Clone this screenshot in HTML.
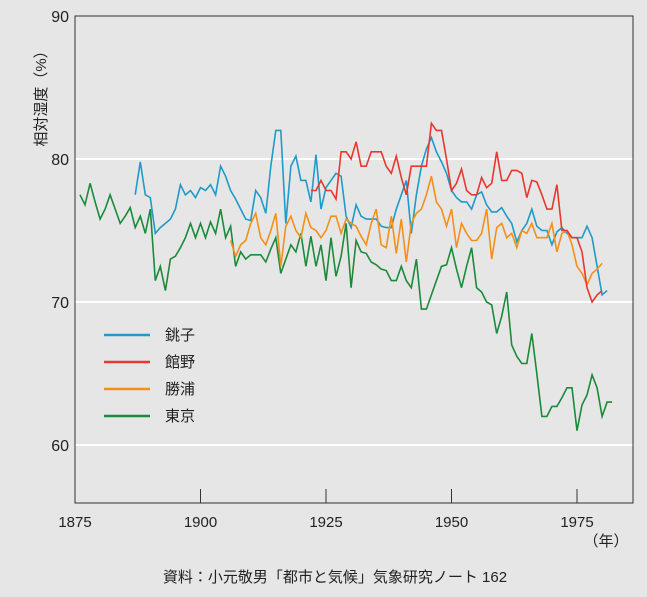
<!DOCTYPE html>
<html><head><meta charset="utf-8"><style>
html,body{margin:0;padding:0;background:#e6e6e6;}
svg{display:block;font-family:"Liberation Sans","Noto Sans CJK JP",sans-serif;}
</style></head><body>
<svg width="647" height="597" viewBox="0 0 647 597">
<rect x="0" y="0" width="647" height="597" fill="#e6e6e6"/>
<g id="grid"></g>
<g id="series"></g>
<path d="M75,16 L75,503 L633,503 L633,16 Z" fill="none" stroke="#333" stroke-width="1"/>
<g id="axes"></g>
<text x="0" y="0" transform="translate(46,95) rotate(-90)" text-anchor="middle" font-size="15" fill="#222">相対湿度（%）</text>
<text x="606" y="546" text-anchor="middle" font-size="15" fill="#222">（年）</text>
<text x="335" y="582" text-anchor="middle" font-size="15" fill="#222">資料：小元敬男「都市と気候」気象研究ノート 162</text>
<g id="legend"></g>
</svg>
<script>
const yTicks=[60,70,80,90];
const xTicks=[1875,1900,1925,1950,1975];
const names=["銚子","館野","勝浦","東京"];
const colors=["#1f9ac9","#e8372f","#f39019","#1b8a3a"];
const choshiStart=1887;
const choshi=[77.5,79.8,77.5,77.3,74.8,75.2,75.5,75.8,76.5,78.2,77.5,77.8,77.3,78,77.8,78.2,77.5,79.5,78.8,77.8,77.2,76.5,75.8,75.7,77.8,77.3,76.2,79.5,82,82,75.5,79.5,80.2,78.5,78.5,77,80.3,76.5,78,78.5,79,78.8,76,75.2,76.8,76,75.8,75.8,75.8,75.3,75.2,75.2,76.5,77.5,78.5,74.8,77.5,79.5,80.7,81.5,80.5,79.8,79,77.8,77.3,77,77,76.5,77.5,77.7,76.8,76.3,76.3,76.6,76,75.5,74.2,75,75.5,76.5,75.3,75,75,74,74.9,75.2,74.8,74.5,74.5,74.5,75.3,74.5,72.5,70.5,70.8];
const tatenoStart=1922;
const tateno=[77.8,77.8,78.5,77.8,77.8,77.2,80.5,80.5,80,81.2,79.5,79.5,80.5,80.5,80.5,79.5,79,80.2,78.7,77.5,79.5,79.5,79.5,79.5,82.5,82,82,80,77.8,78.3,79.3,77.8,77.5,77.5,78.7,78,78.3,80.5,78.5,78.5,79.2,79.2,79,77.3,78.5,78.4,77.5,76.5,76.5,78.2,75,75,74.5,74.5,73.5,71,70,70.5,70.8];
const katsuuraStart=1906;
const katsuura=[74.3,73.2,74,74.3,75.5,76.2,74.5,74,75,76.2,72.5,75.3,76,75,74.5,76.2,75.2,75,74.5,75,76,76,74.8,75.8,75.5,75.3,74.6,74,75.5,76.5,74,73.8,76,73.4,75.8,72.8,75.5,76.2,76.5,77.5,78.8,77,76.5,75.3,76.5,73.8,75.5,74.8,74.3,74.3,74.8,76.5,73,75.2,75.5,74.5,74.8,73.8,75,74.8,75.5,74.5,74.5,74.5,75.5,73.5,74.8,75,74,72.5,72,71.2,72,72.3,72.7];
const tokyoStart=1876;
const tokyo=[77.5,76.8,78.3,77,75.8,76.5,77.5,76.5,75.5,76,76.6,75.2,76,74.8,76.5,71.5,72.5,70.8,73,73.2,73.8,74.5,75.5,74.5,75.5,74.5,75.6,74.8,76.5,74.5,75.3,72.5,73.5,73,73.3,73.3,73.3,72.8,73.7,74.5,72,73,74,73.5,74.8,72.5,74.6,72.5,74,71.5,74.5,71.8,73.2,75.5,71,74.3,73.5,73.4,72.8,72.6,72.3,72.2,71.5,71.5,72.5,71.5,71,73,69.5,69.5,70.5,71.5,72.5,72.6,73.8,72.3,71,72.5,73.8,71,70.7,70,69.8,67.8,69,70.7,67,66.2,65.7,65.7,67.8,65,62,62,62.7,62.7,63.3,64,64,61,62.8,63.5,64.9,64,62,63,63];
const NS="http://www.w3.org/2000/svg";
function xs(yr){return 75+(yr-1875)*5.02;}
function ys(v){return 159+(80-v)*14.3;}
const grid=document.getElementById('grid'),axes=document.getElementById('axes');
yTicks.forEach(t=>{
 if(t<90){const l=document.createElementNS(NS,'line');
 
 
 l.setAttribute('x1',75);l.setAttribute('x2',633);l.setAttribute('y1',ys(t));l.setAttribute('y2',ys(t));
 l.setAttribute('stroke','#fff');l.setAttribute('stroke-width','2');grid.appendChild(l);}
 const tx=document.createElementNS(NS,'text');
 
 
 tx.setAttribute('x',69);tx.setAttribute('y',ys(t)+6);tx.setAttribute('text-anchor','end');
 tx.setAttribute('font-size','16');tx.setAttribute('fill','#222');tx.textContent=t;axes.appendChild(tx);
});
xTicks.forEach(t=>{
 if(t>1875){const l=document.createElementNS(NS,'line');
 
 
 l.setAttribute('x1',xs(t));l.setAttribute('x2',xs(t));l.setAttribute('y1',489);l.setAttribute('y2',503);
 l.setAttribute('stroke','#333');axes.appendChild(l);}
 const tx=document.createElementNS(NS,'text');
 
 
 tx.setAttribute('x',xs(t));tx.setAttribute('y',527);tx.setAttribute('text-anchor','middle');
 tx.setAttribute('font-size','15');tx.setAttribute('fill','#222');tx.textContent=t;axes.appendChild(tx);
});
const sg=document.getElementById('series');
const series=[[choshi,choshiStart,'choshi'],[tateno,tatenoStart,'tateno'],[katsuura,katsuuraStart,'katsuura'],[tokyo,tokyoStart,'tokyo']];
const order=[3,0,2,1];
order.forEach(i=>{
 const [arr,st,nm]=series[i];
 const p=document.createElementNS(NS,'polyline');
 
 
 p.setAttribute('points',arr.map((v,k)=>xs(st+k).toFixed(1)+','+ys(v).toFixed(1)).join(' '));
 p.setAttribute('fill','none');p.setAttribute('stroke',colors[i]);p.setAttribute('stroke-width','1.6');
 sg.appendChild(p);
});
const lg=document.getElementById('legend');
names.forEach((n,i)=>{
 const y=335+i*27;
 const l=document.createElementNS(NS,'line');
 
 
 l.setAttribute('x1',104);l.setAttribute('x2',150);l.setAttribute('y1',y);l.setAttribute('y2',y);
 l.setAttribute('stroke',colors[i]);l.setAttribute('stroke-width','2.5');lg.appendChild(l);
 const t=document.createElementNS(NS,'text');
 
 
 t.setAttribute('x',165);t.setAttribute('y',y+5);t.setAttribute('font-size','15');t.setAttribute('fill','#222');
 t.textContent=n;lg.appendChild(t);
});
</script>
</body></html>
